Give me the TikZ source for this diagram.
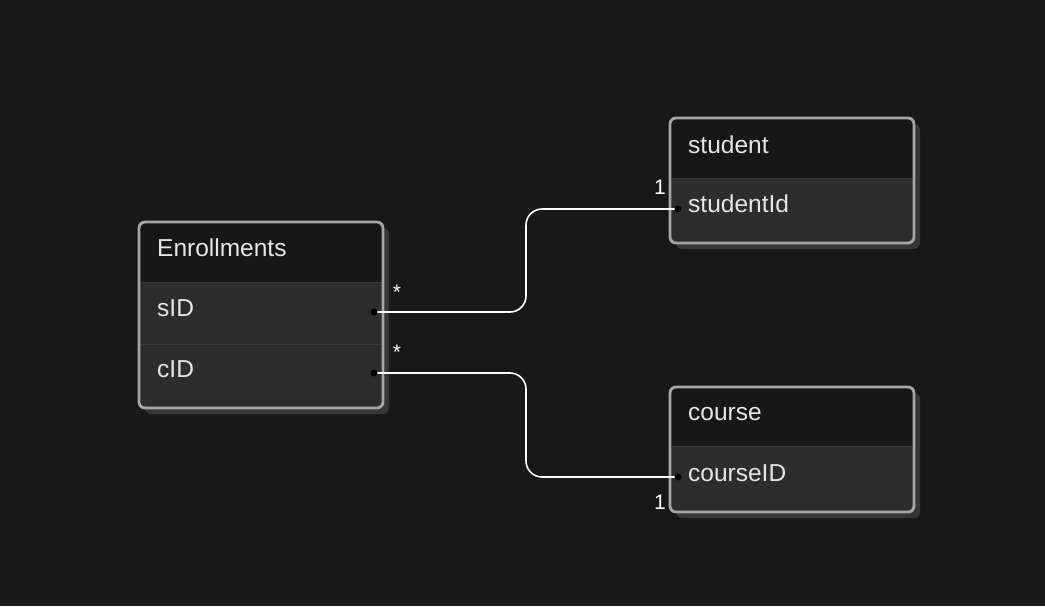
\documentclass[tikz,border=0pt]{standalone}
\usepackage{fontspec}
\setmainfont{Liberation Sans}
\definecolor{bg}{HTML}{181818}
\definecolor{hdr}{HTML}{171717}
\definecolor{rowc}{HTML}{2D2D2D}
\definecolor{sep}{HTML}{3A3A3A}
\definecolor{bord}{HTML}{A6A6A6}
\definecolor{shad}{HTML}{363636}
\definecolor{txt}{HTML}{E6E6E6}
\tikzset{
  ttl/.style={anchor=west, text=txt, font=\fontsize{24.5}{28}\selectfont, inner sep=0pt},
  fld/.style={anchor=west, text=txt, font=\fontsize{24.5}{28}\selectfont, inner sep=0pt},
  card/.style={text=white, font=\fontsize{21}{24}\selectfont, inner sep=0pt},
  link/.style={draw=white, line width=1.6pt, rounded corners=16pt},
  port/.style={fill=black, circle, minimum size=7pt, inner sep=0pt},
}
\newcommand{\tablebox}[4]{% x1,y1,x2,y2 ; header height 60
  \fill[shad, rounded corners=6pt] (#1+6,#2+6) rectangle (#3+6,#4+6);
  \fill[rowc, rounded corners=6pt] (#1,#2) rectangle (#3,#4);
  \fill[hdr, rounded corners=6pt] (#1,#2) rectangle (#3,#2+60);
  \fill[hdr] (#1,#2+30) rectangle (#3,#2+60);
}
\begin{document}
\begin{tikzpicture}[x=1pt,y=-1pt]
\fill[bg] (0,0) rectangle (1045,606);
\useasboundingbox (0,0) rectangle (1045,606);
% Enrollments
\tablebox{139}{222}{383}{408}
\draw[sep, line width=1pt] (141,282) -- (381,282);
\draw[sep, line width=1pt] (141,344) -- (381,344);
\draw[bord, line width=2.8pt, rounded corners=6pt] (139,222) rectangle (383,408);
\node[ttl] (en) at (157,248) {Enrollments};
\node[fld] (sid) at (157,308) {sID};
\node[fld] (cid) at (157,369) {cID};
% student
\tablebox{670}{118}{914}{243}
\draw[sep, line width=1pt] (672,178) -- (912,178);
\draw[bord, line width=2.8pt, rounded corners=6pt] (670,118) rectangle (914,243);
\node[ttl] (st) at (688,145) {student};
\node[fld] (stid) at (688,204) {studentId};
% course
\tablebox{670}{387}{914}{512}
\draw[sep, line width=1pt] (672,446) -- (912,446);
\draw[bord, line width=2.8pt, rounded corners=6pt] (670,387) rectangle (914,512);
\node[ttl] (co) at (688,414) {course};
\node[fld] (coid) at (688,473) {courseID};
% ports
\coordinate (p1) at (374,312);
\coordinate (p2) at (374,373);
\coordinate (q1) at (678,209);
\coordinate (q2) at (678,477);
\draw[link] (p1) -- (526,312) -- (526,209) -- (q1);
\draw[link] (p2) -- (526,373) -- (526,477) -- (q2);
\node[port] at (p1) {};
\node[port] at (p2) {};
\node[port] at (q1) {};
\node[port] at (q2) {};
% cardinalities
\node[card] (c1) at (397,292) {*};
\node[card] (c2) at (397,352) {*};
\node[card] (c3) at (660,187) {1};
\node[card] (c4) at (660,502) {1};
\end{tikzpicture}
\end{document}
